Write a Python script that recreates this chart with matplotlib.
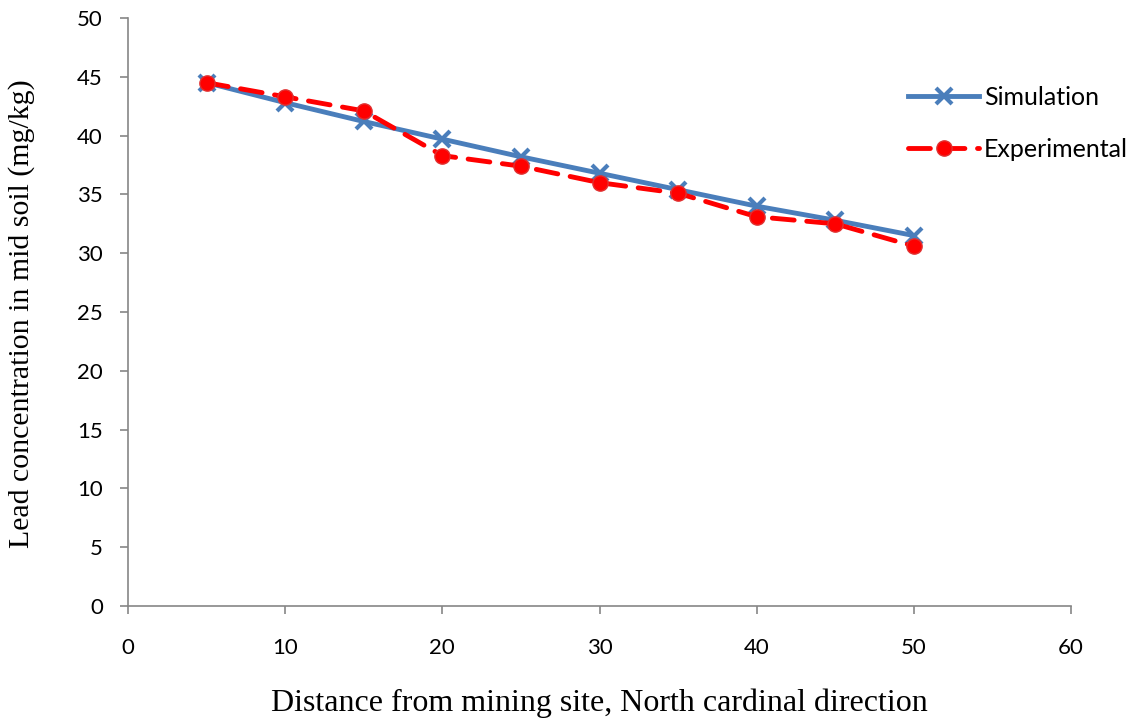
import matplotlib
matplotlib.use("Agg")
import matplotlib.pyplot as plt

distance = [5, 10, 15, 20, 25, 30, 35, 40, 45, 50]
simulation = [44.5, 42.8, 41.2, 39.7, 38.2, 36.8, 35.4, 34.0, 32.8, 31.5]
experimental = [44.5, 43.3, 42.1, 38.3, 37.4, 36.0, 35.1, 33.1, 32.5, 30.6]

TICK_FONT = "Lato"
fig = plt.figure(figsize=(11.36, 7.25), dpi=100)
ax = fig.add_axes([128/1136, 1-606/725, (1071-128)/1136, (606-18)/725])

ax.plot(distance, simulation, color="#4a7ebb", lw=3.5, marker="x", ms=11, mew=3,
        label="Simulation", zorder=3)
ax.plot(distance, experimental, color="#ff0000", lw=3.5, ls=(0, (4.5, 2.6)),
        dash_capstyle="round", marker="o", ms=11,
        mfc="#ff0000", mec="#e03030", label="Experimental", zorder=4)

ax.set_xlim(0, 60)
ax.set_ylim(0, 50)
ax.set_xticks(range(0, 61, 10))
ax.set_yticks(range(0, 51, 5))
for s in ["top", "right"]:
    ax.spines[s].set_visible(False)
for s in ["left", "bottom"]:
    ax.spines[s].set_color("#868686")
    ax.spines[s].set_linewidth(1.2)
ax.tick_params(direction="out", length=6, color="#868686", width=1.2, labelsize=16)
ax.tick_params(axis="x", pad=17)
ax.tick_params(axis="y", pad=12)
for lab in ax.get_xticklabels() + ax.get_yticklabels():
    lab.set_fontfamily(TICK_FONT)

ax.set_xlabel("Distance from mining site, North cardinal direction",
              fontfamily="Liberation Serif", fontsize=23, va="center", ha="center")
ax.xaxis.set_label_coords(0.5, (606-703)/588)
ax.set_ylabel("Lead concentration in mid soil (mg/kg)",
              fontfamily="Liberation Serif", fontsize=21.5, va="center", ha="center")
ax.yaxis.set_label_coords((22-128)/943, (606-314)/588)

leg = ax.legend(loc="upper left", bbox_to_anchor=(908/1136, 1-86/725),
                bbox_transform=fig.transFigure, frameon=False,
                prop={"family": TICK_FONT, "size": 18}, handlelength=2.85,
                labelspacing=1.15, handletextpad=0.2, borderpad=0, borderaxespad=0)

fig.savefig("out.png", dpi=100)
